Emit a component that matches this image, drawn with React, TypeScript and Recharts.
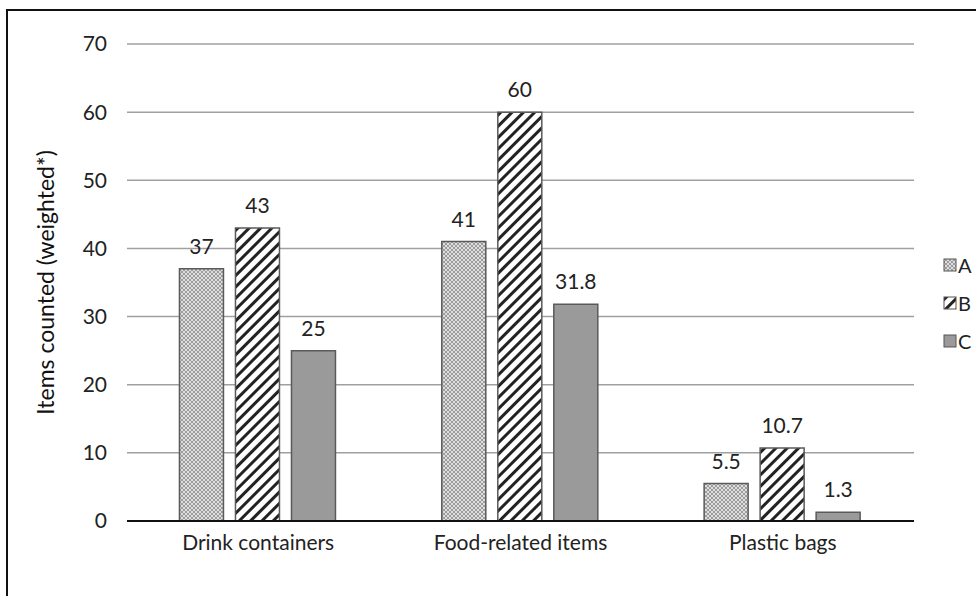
import { Bar, BarChart, CartesianGrid, LabelList, XAxis, YAxis } from "recharts"

const categories = ["Drink containers", "Food-related items", "Plastic bags"]
const seriesA = [37, 41, 5.5]
const seriesB = [43, 60, 10.7]
const seriesC = [25, 31.8, 1.3]
const yTicks = [0, 10, 20, 30, 40, 50, 60, 70]

const data = categories.map((name, i) => ({
  name,
  A: seriesA[i],
  B: seriesB[i],
  C: seriesC[i],
}))

const font = "Lato, 'Open Sans', sans-serif"

const legendItems = [
  { key: "A", fill: "url(#patA)" },
  { key: "B", fill: "url(#patB)" },
  { key: "C", fill: "#9a9a9a" },
]

function PatternDefs() {
  return (
    <defs>
      <pattern id="patA" patternUnits="userSpaceOnUse" width={4} height={4}>
        <rect x={0} y={0} width={4} height={4} fill="#9c9c9c" />
        <circle cx={2} cy={2} r={1.1} fill="#eeeeee" />
        <circle cx={0} cy={0} r={1.1} fill="#eeeeee" />
        <circle cx={4} cy={0} r={1.1} fill="#eeeeee" />
        <circle cx={0} cy={4} r={1.1} fill="#eeeeee" />
        <circle cx={4} cy={4} r={1.1} fill="#eeeeee" />
      </pattern>
      <pattern id="patB" patternUnits="userSpaceOnUse" width={8} height={8} patternTransform="rotate(45)">
        <rect x={0} y={0} width={8} height={8} fill="#fff" />
        <rect x={0} y={0} width={3} height={8} fill="#222" />
      </pattern>
    </defs>
  )
}

export default function App() {
  return (
    <div style={{ position: "relative", width: 976, height: 596, overflow: "hidden", background: "#fff" }}>
      <style>{`body { margin: 0; }`}</style>
      <div style={{ position: "absolute", left: 6, top: 9, width: 2, height: 600, background: "#111" }} />
      <div style={{ position: "absolute", left: 6, top: 9, width: 980, height: 2, background: "#111" }} />
      <div style={{ position: "absolute", left: 0, top: 0 }}>
        <BarChart
          width={976}
          height={596}
          data={data}
          margin={{ top: 44, right: 62, bottom: 45, left: 0 }}
          barCategoryGap="20%"
          barGap={12}
        >
          <PatternDefs />
          <CartesianGrid vertical={false} stroke="#a0a0a0" strokeWidth={1.5} />
          <XAxis
            dataKey="name"
            tickLine={false}
            axisLine={{ stroke: "#111", strokeWidth: 2 }}
            tick={{ fill: "#222", fontSize: 21, fontFamily: font }}
            tickMargin={8}
          />
          <YAxis
            width={127}
            domain={[0, 70]}
            ticks={yTicks}
            tickLine={false}
            axisLine={false}
            tick={{ fill: "#222", fontSize: 21, fontFamily: font }}
            tickMargin={14}
            label={{
              value: "Items counted (weighted*)",
              angle: -90,
              position: "center",
              dx: -18,
              fill: "#111",
              fontSize: 23,
              fontFamily: font,
            }}
          />
          <Bar dataKey="A" fill="url(#patA)" stroke="#5a5a5a" strokeWidth={1.5} isAnimationActive={false}>
            <LabelList dataKey="A" position="top" offset={15} fill="#222" fontSize={21} fontFamily={font} />
          </Bar>
          <Bar dataKey="B" fill="url(#patB)" stroke="#5a5a5a" strokeWidth={1.5} isAnimationActive={false}>
            <LabelList dataKey="B" position="top" offset={15} fill="#222" fontSize={21} fontFamily={font} />
          </Bar>
          <Bar dataKey="C" fill="#9a9a9a" stroke="#5a5a5a" strokeWidth={1.5} isAnimationActive={false}>
            <LabelList dataKey="C" position="top" offset={15} fill="#222" fontSize={21} fontFamily={font} />
          </Bar>
        </BarChart>
      </div>
      <svg style={{ position: "absolute", left: 940, top: 252 }} width={36} height={110}>
        <PatternDefs />
        {legendItems.map((it, i) => (
          <g key={it.key} transform={`translate(0, ${i * 38})`}>
            <rect x={4} y={7} width={12} height={12} fill={it.fill} stroke="#555" strokeWidth={1} />
            <text x={18} y={21} fontSize={20} fill="#222" fontFamily={font}>
              {it.key}
            </text>
          </g>
        ))}
      </svg>
    </div>
  )
}
